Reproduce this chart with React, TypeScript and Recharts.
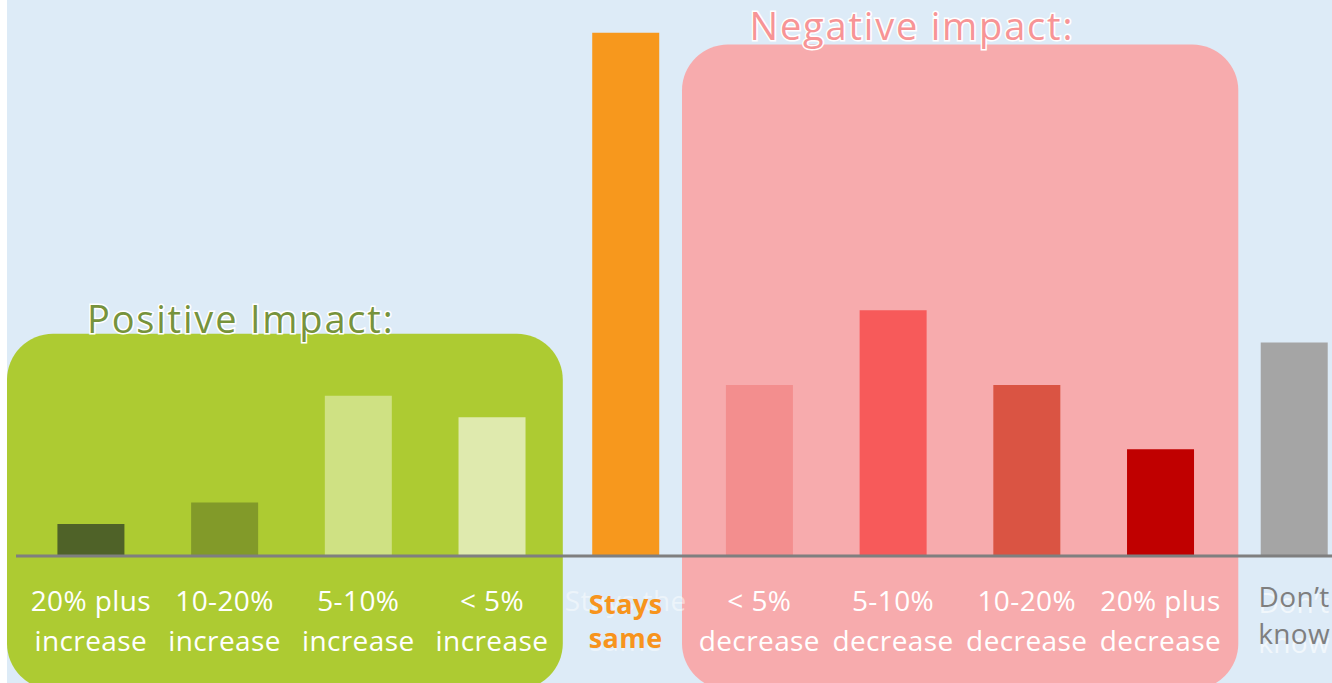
import { BarChart, Bar, XAxis, YAxis, Cell, ReferenceArea } from 'recharts';

const categories = ['pos20', 'pos10', 'pos5', 'pos0', 'same', 'neg0', 'neg5', 'neg10', 'neg20', 'dk'];
const labelTop = ['20% plus', '10-20%', '5-10%', '< 5%', 'Stays the', '< 5%', '5-10%', '10-20%', '20% plus', 'Don’t'];
const labelBottom = ['increase', 'increase', 'increase', 'increase', 'same', 'decrease', 'decrease', 'decrease', 'decrease', 'know'];
const shares = [3, 5, 15, 13, 49, 16, 23, 16, 10, 20];
const barColors = ['#4F6228', '#829A29', '#CFE183', '#DFEAAE', '#F7981D', '#F38E8E', '#F75A5A', '#DA5443', '#C00000', '#A5A5A5'];

const data = categories.map((c, i) => ({ key: c, value: shares[i] }));

const FONT = '"Open Sans", sans-serif';

function Tick(props: any) {
  const { x, y, payload } = props;
  const i = categories.indexOf(payload.value);
  const common = { x, textAnchor: 'middle' as const, fontFamily: FONT, fontSize: 28, letterSpacing: 0.4 };
  if (payload.value === 'same') {
    return (
      <g>
        <text {...common} y={y + 55} fill="#fff" opacity={0.45}>{labelTop[i]}</text>
        <text {...common} y={y + 95} fill="#fff" opacity={0.45}>{labelBottom[i]}</text>
        <text {...common} y={y + 58} fill="#F7941D" fontWeight={700} fontSize={27}>Stays</text>
        <text {...common} y={y + 92} fill="#F7941D" fontWeight={700} fontSize={27}>same</text>
      </g>
    );
  }
  if (payload.value === 'dk') {
    return (
      <g>
        <text {...common} y={y + 57} fill="#fff" opacity={0.6}>{labelTop[i]}</text>
        <text {...common} y={y + 97} fill="#fff" opacity={0.6}>{labelBottom[i]}</text>
        <text {...common} y={y + 51} fill="#7F7F7F">{labelTop[i]}</text>
        <text {...common} y={y + 88} fill="#7F7F7F">{labelBottom[i]}</text>
      </g>
    );
  }
  return (
    <g>
      <text {...common} y={y + 55} fill="#fff">{labelTop[i]}</text>
      <text {...common} y={y + 95} fill="#fff">{labelBottom[i]}</text>
    </g>
  );
}

// rounded panel behind a group of categories, a little wider than the bands
const panel = (fill: string, padL: number, padR: number) => (p: any) => (
  <rect x={p.x - padL} y={p.y} width={p.width + padL + padR} height={p.height} rx={46} ry={46} fill={fill} />
);

const title = (text: string, color: string, dx: number, dy: number) => (p: any) => {
  const vb = p.viewBox || {};
  return (
    <text
      x={vb.x + dx}
      y={vb.y + dy}
      fill={color}
      stroke="#fff"
      strokeWidth={3}
      paintOrder="stroke"
      fontFamily={FONT}
      fontSize={38}
      letterSpacing={1.8}
    >
      {text}
    </text>
  );
};

export default function App() {
  return (
    <div
      style={{
        position: 'absolute',
        left: 7,
        top: 0,
        width: 1325,
        height: 683,
        overflow: 'hidden',
        background: '#DDEBF7',
      }}
    >
      <BarChart width={1354} height={683} data={data} margin={{ top: 22, right: 0, left: 9, bottom: 0 }} barCategoryGap="25%">
        <YAxis hide domain={[0, 50]} />
        <ReferenceArea
          x1="pos20"
          x2="pos0"
          y1={-12.5}
          y2={20.8}
          ifOverflow="visible"
          shape={panel('#ADCB32', 17, 4)}
          label={title('Positive Impact:', '#77933C', 63, -1)}
        />
        <ReferenceArea
          x1="neg0"
          x2="neg20"
          y1={-12.5}
          y2={47.9}
          ifOverflow="visible"
          shape={panel('#F7ABAD', 10.5, 11)}
          label={title('Negative impact:', '#F79496', 57, -4)}
        />
        <XAxis
          dataKey="key"
          interval={0}
          height={127}
          padding={{ left: 8, right: 0 }}
          axisLine={{ stroke: '#7F7F7F', strokeWidth: 3 }}
          tickLine={false}
          tickSize={0}
          tickMargin={0}
          tick={<Tick />}
        />
        <Bar dataKey="value" isAnimationActive={false}>
          {data.map((d, i) => (
            <Cell key={d.key} fill={barColors[i]} />
          ))}
        </Bar>
      </BarChart>
    </div>
  );
}
